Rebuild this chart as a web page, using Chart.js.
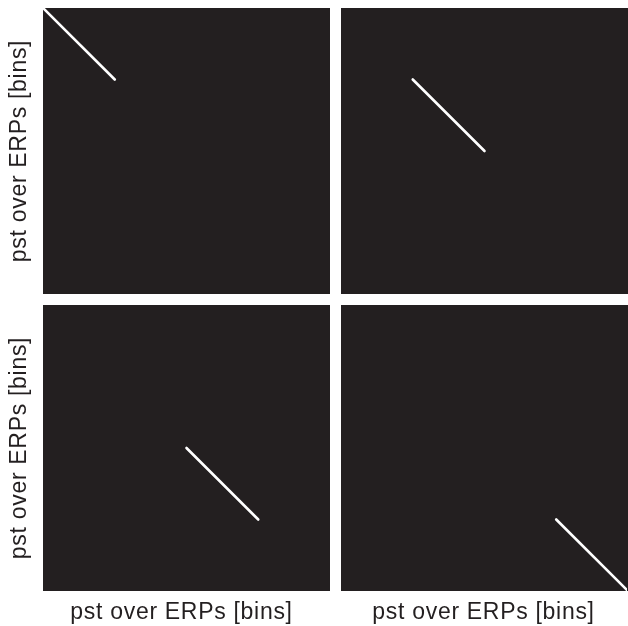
<!DOCTYPE html>
<html>
<head>
<meta charset="utf-8">
<script src="https://cdn.jsdelivr.net/npm/chart.js@4/dist/chart.umd.min.js"></script>
<style>
  html, body { margin: 0; padding: 0; background: #ffffff; }
  #wrap { position: relative; width: 628px; height: 626px; overflow: hidden; }
  canvas { position: absolute; display: block; }
</style>
</head>
<body>
<div id="wrap">
  <canvas id="p1" width="330" height="294" style="left:0px;top:0px"></canvas>
  <canvas id="p2" width="287" height="286" style="left:341px;top:8px"></canvas>
  <canvas id="p3" width="330" height="321" style="left:0px;top:305px"></canvas>
  <canvas id="p4" width="287" height="321" style="left:341px;top:305px"></canvas>
</div>
<script>
// Peristimulus time concatenated over four ERPs; each ERP spans 32 bins.
const binRange = [0, 128];
const segmentStart = [0, 32, 64, 96];
const segmentEnd = [32, 64, 96, 128];
const axisLabel = 'pst over ERPs [bins]';

const panelBg = '#231f20';
const textColor = '#231f20';
const labelFont = { family: 'Liberation Sans, Arial, Helvetica, sans-serif', size: 23 };

// Dark plot background and lightly tracked label lettering.
const panelStyle = {
  id: 'panelStyle',
  afterLayout(chart, args, opts) {
    const x = chart.scales.x;
    if (opts.titleShift && x) { x.left += opts.titleShift; x.right += opts.titleShift; }
  },
  beforeDraw(chart) {
    const { ctx, chartArea: a } = chart;
    ctx.letterSpacing = '0.7px';
    ctx.save();
    ctx.fillStyle = panelBg;
    ctx.fillRect(a.left, a.top, a.right - a.left, a.bottom - a.top);
    ctx.restore();
  }
};

function makePanel(id, k, showY, showX, titleShift) {
  const pts = [
    { x: segmentStart[k], y: segmentStart[k] },
    { x: segmentEnd[k], y: segmentEnd[k] }
  ];
  new Chart(document.getElementById(id), {
    type: 'scatter',
    data: {
      datasets: [{
        data: pts,
        showLine: true,
        borderColor: '#ffffff',
        borderWidth: 2.6,
        borderCapStyle: 'round',
        pointRadius: 0,
        pointHoverRadius: 0
      }]
    },
    options: {
      responsive: false,
      animation: false,
      devicePixelRatio: 1,
      layout: { padding: { top: (id === 'p1') ? 8 : 0, right: 0, bottom: 0, left: 0 } },
      plugins: {
        legend: { display: false },
        tooltip: { enabled: false },
        panelStyle: { titleShift: titleShift }
      },
      scales: {
        x: {
          type: 'linear',
          min: binRange[0], max: binRange[1],
          display: showX,
          grid: { display: false },
          border: { display: false },
          ticks: { display: false },
          title: {
            display: showX, text: axisLabel, color: textColor, font: labelFont,
            padding: { top: 0, bottom: 0 }
          },
          afterFit(scale) { if (showX) scale.height = 35; }
        },
        y: {
          type: 'linear',
          reverse: true,
          min: binRange[0], max: binRange[1],
          display: showY,
          grid: { display: false },
          border: { display: false },
          ticks: { display: false },
          title: {
            display: showY, text: axisLabel, color: textColor, font: labelFont,
            padding: { top: 6, bottom: 0 }
          },
          afterFit(scale) { if (showY) scale.width = 43; }
        }
      }
    },
    plugins: [panelStyle]
  });
}

makePanel('p1', 0, true, false, 0);
makePanel('p2', 1, false, false, 0);
makePanel('p3', 2, true, true, -5);
makePanel('p4', 3, false, true, -1);
</script>
</body>
</html>
